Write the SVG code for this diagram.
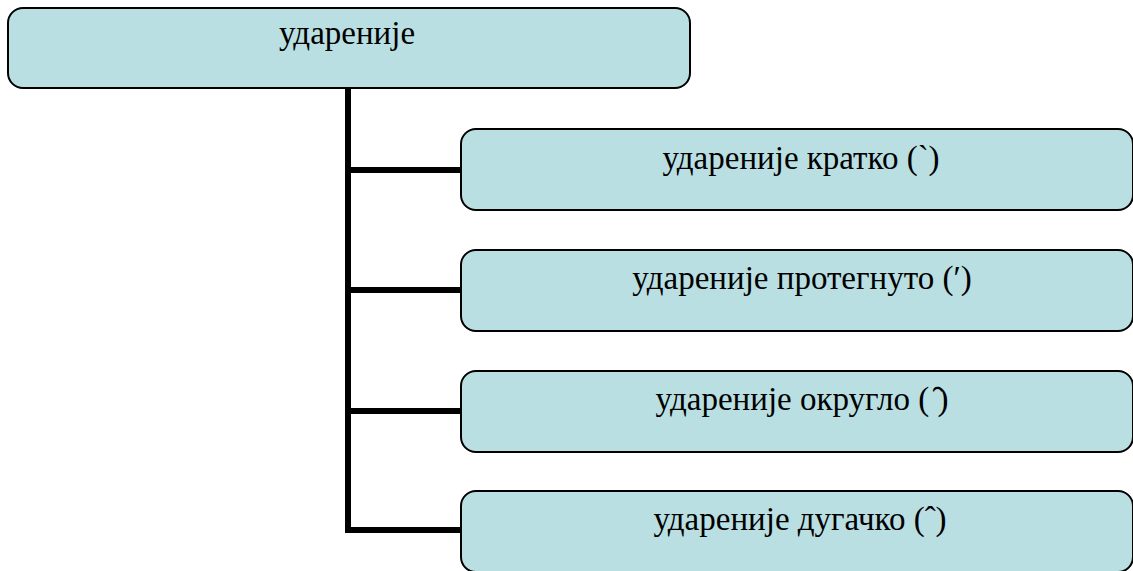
<svg xmlns="http://www.w3.org/2000/svg" width="1133" height="571" viewBox="0 0 1133 571">
<style>
.box{fill:#b9dfe2;stroke:#000;stroke-width:2}
.lbl{font-family:"Liberation Serif","Times New Roman",serif;font-size:33px;fill:#000;text-anchor:middle}
.con{stroke:#000;stroke-width:6;fill:none}
</style>
<rect width="1133" height="571" fill="#fff"/>
<g id="connectors">
<path class="con" d="M348 88 V533"/>
<path class="con" d="M345 170 H462"/>
<path class="con" d="M345 290 H462"/>
<path class="con" d="M345 411 H462"/>
<path class="con" d="M345 530 H462"/>
</g>
<g id="root">
<rect class="box" x="8" y="8" width="682" height="80" rx="15"/>
<text class="lbl" x="347" y="44">ударенијe</text>
</g>
<g id="n1">
<rect class="box" x="461" y="129" width="672" height="81" rx="15"/>
<text class="lbl" x="801" y="169">ударенијe кратко (`)</text>
</g>
<g id="n2">
<rect class="box" x="461" y="250" width="672" height="81" rx="15"/>
<text class="lbl" x="802" y="289">ударенијe протегнуто (′)</text>
</g>
<g id="n3">
<rect class="box" x="461" y="371" width="672" height="81" rx="15"/>
<text class="lbl" x="802" y="410">ударенијe округло (&#xA0;&#x311;)</text>
</g>
<g id="n4">
<rect class="box" x="461" y="491" width="672" height="81" rx="15"/>
<text class="lbl" x="800" y="530">ударенијe дугачко (ˆ)</text>
</g>
</svg>
